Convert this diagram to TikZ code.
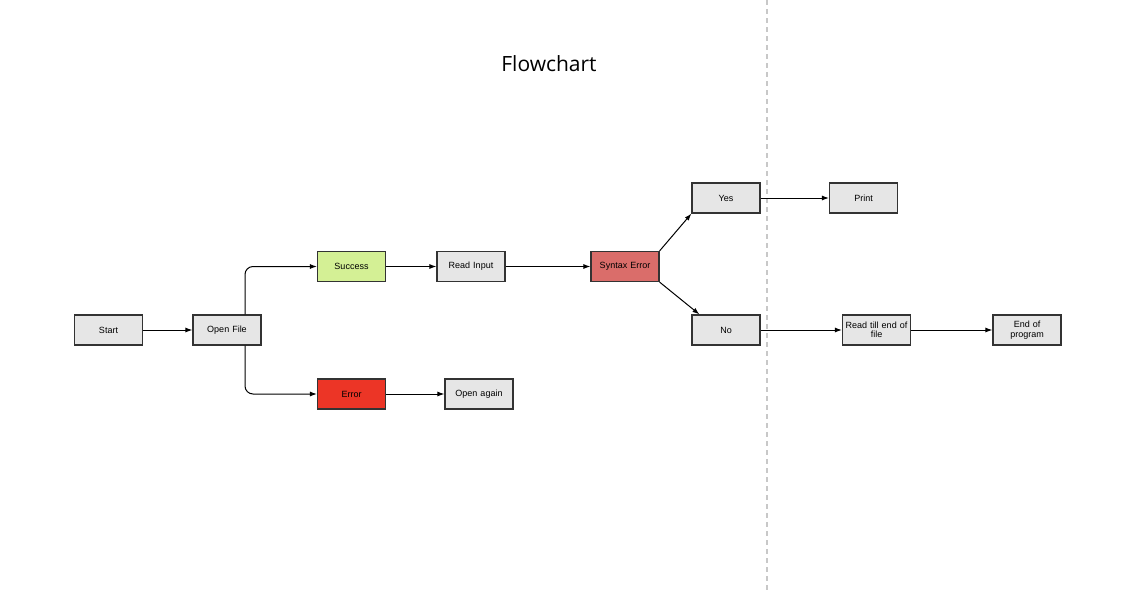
\documentclass[tikz,border=0pt]{standalone}
\usepackage{fontspec}
\setmainfont{Liberation Sans}
\newfontfamily\titlefont{Open Sans}
\usetikzlibrary{arrows.meta}
\definecolor{boxgray}{HTML}{E6E6E6}
\definecolor{succgreen}{HTML}{D4F095}
\definecolor{errred}{HTML}{EC3526}
\definecolor{synred}{HTML}{DA6D6A}
\definecolor{edgegray}{HTML}{333333}
\definecolor{sepgray}{HTML}{C8C8C8}
\tikzset{
  fbox/.style={draw=edgegray, line width=1.2pt, fill=boxgray, minimum width=68pt, minimum height=30pt,
    inner sep=1pt, align=center, text width=66pt, font=\fontsize{9}{9.5}\selectfont},
  conn/.style={draw=black, line width=1pt, -{Latex[length=7pt,width=5pt]}},
}
\begin{document}
\begin{tikzpicture}[x=1pt,y=-1pt]
\useasboundingbox (0,0) rectangle (1146,592);
\draw[sepgray, line width=1.3pt, dash pattern=on 5pt off 4pt] (767,0) -- (767,592);
\node[font=\titlefont\fontsize{21}{24}\selectfont] (title) at (549,64) {Flowchart};
\node[fbox] (start) at (108.5,330) {Start};
\node[fbox] (open) at (227,330) {Open File};
\node[fbox, fill=succgreen] (succ) at (351.5,266.5) {Success};
\node[fbox, fill=errred] (err) at (351.5,394) {Error};
\node[fbox] (again) at (479,394) {Open again};
\node[fbox] (read) at (471,266.5) {Read Input};
\node[fbox, fill=synred] (syn) at (625,266.5) {Syntax Error};
\node[fbox] (yes) at (726,198) {Yes};
\node[fbox] (no) at (726,330) {No};
\node[fbox] (print) at (863.5,198) {Print};
\node[fbox] (rtill) at (876.5,330) {Read till end of\\file};
\node[fbox] (endp) at (1027,330) {End of\\program};
\draw[conn] (start) -- (open);
\draw[conn, rounded corners=8pt] ([xshift=18pt]open.north) |- (succ.west);
\draw[conn, rounded corners=8pt] ([xshift=18pt]open.south) |- (err.west);
\draw[conn] (succ) -- (read);
\draw[conn] (err) -- (again);
\draw[conn] (read) -- (syn);
\draw[conn] (syn.north east) -- (yes.south west);
\draw[conn] (syn.south east) -- ([xshift=8pt]no.north west);
\draw[conn] (yes) -- (print);
\draw[conn] (no) -- (rtill);
\draw[conn] (rtill) -- (endp);
\end{tikzpicture}
\end{document}
